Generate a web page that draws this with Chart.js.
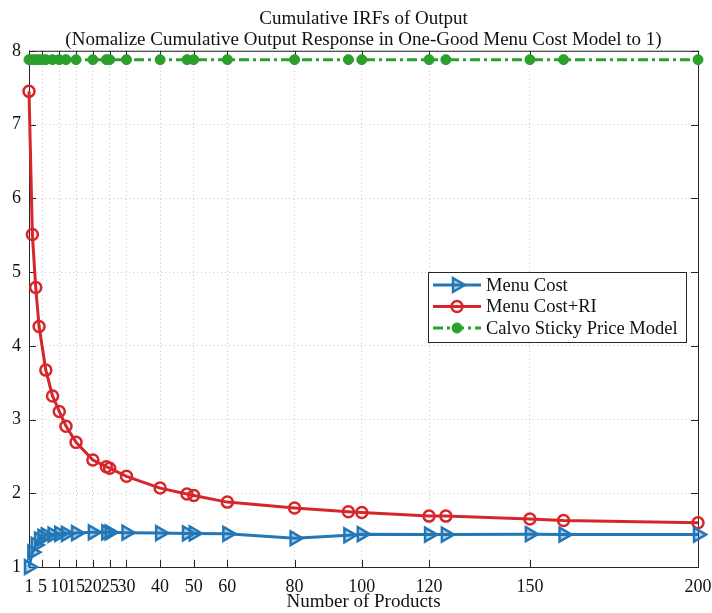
<!DOCTYPE html>
<html>
<head>
<meta charset="utf-8">
<script src="https://cdn.jsdelivr.net/npm/chart.js@4"></script>
<style>
  html, body { margin: 0; padding: 0; background: #fff; }
  #wrap { width: 712px; height: 613px; }
</style>
</head>
<body>
<div id="wrap"><canvas id="c" width="712" height="613"></canvas></div>
<script>
// number of products (x positions)
const products = [1, 2, 3, 4, 5, 6, 8, 10, 12, 15, 20, 24, 25, 30, 40, 48, 50, 60, 80, 96, 100, 120, 125, 150, 160, 200];
const menuCost = [1.0, 1.2, 1.3, 1.37, 1.41, 1.43, 1.44, 1.45, 1.45, 1.46, 1.47, 1.47, 1.47, 1.465, 1.46, 1.455, 1.455, 1.45, 1.39, 1.43, 1.445, 1.44, 1.44, 1.445, 1.44, 1.44];

// the RI series skips 5 products
const productsRI = [1, 2, 3, 4, 6, 8, 10, 12, 15, 20, 24, 25, 30, 40, 48, 50, 60, 80, 96, 100, 120, 125, 150, 160, 200];
const menuCostRI = [7.45, 5.51, 4.79, 4.26, 3.67, 3.32, 3.11, 2.91, 2.69, 2.45, 2.36, 2.34, 2.23, 2.07, 1.99, 1.97, 1.88, 1.8, 1.75, 1.74, 1.69, 1.69, 1.65, 1.63, 1.6];

const calvo = products.map(() => 7.88); // flat line

const xTicks = [1, 5, 10, 15, 20, 25, 30, 40, 50, 60, 80, 100, 120, 150, 200];
const yTicks = [1, 2, 3, 4, 5, 6, 7, 8];

const seriesNames = ["Menu Cost", "Menu Cost+RI", "Calvo Sticky Price Model"];
const titleLines = ["Cumulative IRFs of Output", "(Nomalize Cumulative Output Response in One-Good Menu Cost Model to 1)"];

const BLUE = "#2377b6";
const RED = "#d7262b";
const GREEN = "#2ca02c";
const FONT = "'Liberation Serif', 'DejaVu Serif', serif";

function pairs(xs, ys) {
    return xs.map((x, i) => ({ x: x, y: ys[i] }));
}

// box round the plot with inward ticks, matlab style
const boxPlugin = {
    id: "box",
    beforeDatasetsDraw(chart) {
        const { ctx, chartArea: a, scales } = chart;
        ctx.save();
        ctx.strokeStyle = "#262626";
        ctx.lineWidth = 1;
        ctx.strokeRect(a.left + 0.5, a.top + 0.5, a.right - a.left, a.bottom - a.top);
        ctx.beginPath();
        xTicks.forEach(t => {
            const px = Math.round(scales.x.getPixelForValue(t)) + 0.5;
            ctx.moveTo(px, a.bottom); ctx.lineTo(px, a.bottom - 7);
            ctx.moveTo(px, a.top); ctx.lineTo(px, a.top + 7);
        });
        yTicks.forEach(t => {
            const py = Math.round(scales.y.getPixelForValue(t)) + 0.5;
            ctx.moveTo(a.left, py); ctx.lineTo(a.left + 7, py);
            ctx.moveTo(a.right, py); ctx.lineTo(a.right - 7, py);
        });
        ctx.stroke();
        ctx.restore();
    }
};

// legend drawn inside the axes
const legendPlugin = {
    id: "boxLegend",
    afterDatasetsDraw(chart) {
        const { ctx } = chart;
        const x0 = 428, y0 = 272, w = 258, h = 70;
        ctx.save();
        ctx.fillStyle = "#fff";
        ctx.fillRect(x0, y0, w, h);
        ctx.strokeStyle = "#262626";
        ctx.lineWidth = 1;
        ctx.strokeRect(x0 + 0.5, y0 + 0.5, w, h);
        chart.data.datasets.forEach((ds, i) => {
            const y = y0 + 13 + i * 21.5;
            ctx.strokeStyle = ds.borderColor;
            ctx.lineWidth = ds.borderWidth;
            ctx.setLineDash(ds.borderDash || []);
            ctx.beginPath();
            ctx.moveTo(x0 + 5, y);
            ctx.lineTo(x0 + 53, y);
            ctx.stroke();
            ctx.setLineDash([]);
            ctx.fillStyle = ds.pointBackgroundColor;
            ctx.strokeStyle = ds.pointBorderColor;
            ctx.lineWidth = ds.pointBorderWidth;
            Chart.helpers.drawPoint(ctx, {
                pointStyle: ds.pointStyle,
                rotation: ds.pointRotation || 0,
                radius: ds.pointRadius,
                borderWidth: ds.pointBorderWidth
            }, x0 + 29, y);
            ctx.fillStyle = "#111";
            ctx.font = "18.5px " + FONT;
            ctx.textBaseline = "middle";
            ctx.fillText(ds.label, x0 + 58, y + 1);
        });
        ctx.restore();
    }
};

new Chart(document.getElementById("c"), {
    type: "line",
    data: {
        datasets: [
            {
                label: seriesNames[0],
                data: pairs(products, menuCost),
                borderColor: BLUE,
                borderWidth: 3,
                pointStyle: "triangle",
                pointRotation: 90,
                pointRadius: 8,
                pointBorderWidth: 2.5,
                pointBorderColor: BLUE,
                pointBackgroundColor: "rgba(35,119,182,0.35)",
                clip: false
            },
            {
                label: seriesNames[1],
                data: pairs(productsRI, menuCostRI),
                borderColor: RED,
                borderWidth: 3,
                pointStyle: "circle",
                pointRadius: 5.5,
                pointBorderWidth: 2.5,
                pointBorderColor: RED,
                pointBackgroundColor: "rgba(255,255,255,0)",
                clip: false
            },
            {
                label: seriesNames[2],
                data: pairs(products, calvo),
                borderColor: GREEN,
                borderWidth: 3,
                borderDash: [10, 4, 3, 4],
                pointStyle: "circle",
                pointRadius: 5,
                pointBorderWidth: 1,
                pointBorderColor: GREEN,
                pointBackgroundColor: GREEN,
                clip: false
            }
        ]
    },
    options: {
        responsive: false,
        animation: false,
        layout: { padding: { left: 0, right: 14, top: 0, bottom: 0 } },
        plugins: {
            legend: { display: false },
            tooltip: { enabled: false },
            title: {
                display: true,
                text: titleLines,
                fullSize: false,
                color: "#111",
                font: { family: FONT, size: 19, weight: "normal", lineHeight: 1.1 },
                padding: { top: 9, bottom: 0 }
            }
        },
        scales: {
            x: {
                type: "linear",
                min: 1,
                max: 200,
                afterBuildTicks: s => { s.ticks = xTicks.map(v => ({ value: v })); },
                afterFit: s => { s.height = 46; s.paddingLeft = 0; s.paddingRight = 0; },
                ticks: {
                    autoSkip: false,
                    maxRotation: 0,
                    padding: 9,
                    color: "#111",
                    font: { family: FONT, size: 18 }
                },
                grid: { color: "#c8c8c8", drawTicks: false },
                border: { display: false, dash: [1, 3] },
                title: {
                    display: true,
                    text: "Number of Products",
                    color: "#111",
                    font: { family: FONT, size: 19 },
                    padding: { top: 0, bottom: 0 }
                }
            },
            y: {
                type: "linear",
                min: 1,
                max: 8,
                afterBuildTicks: s => { s.ticks = yTicks.map(v => ({ value: v })); },
                afterFit: s => { s.width = 29; s.paddingTop = 0; s.paddingBottom = 0; },
                ticks: {
                    padding: 8,
                    color: "#111",
                    font: { family: FONT, size: 18 }
                },
                grid: { color: "#c8c8c8", drawTicks: false },
                border: { display: false, dash: [1, 3] }
            }
        }
    },
    plugins: [boxPlugin, legendPlugin]
});
</script>
</body>
</html>
